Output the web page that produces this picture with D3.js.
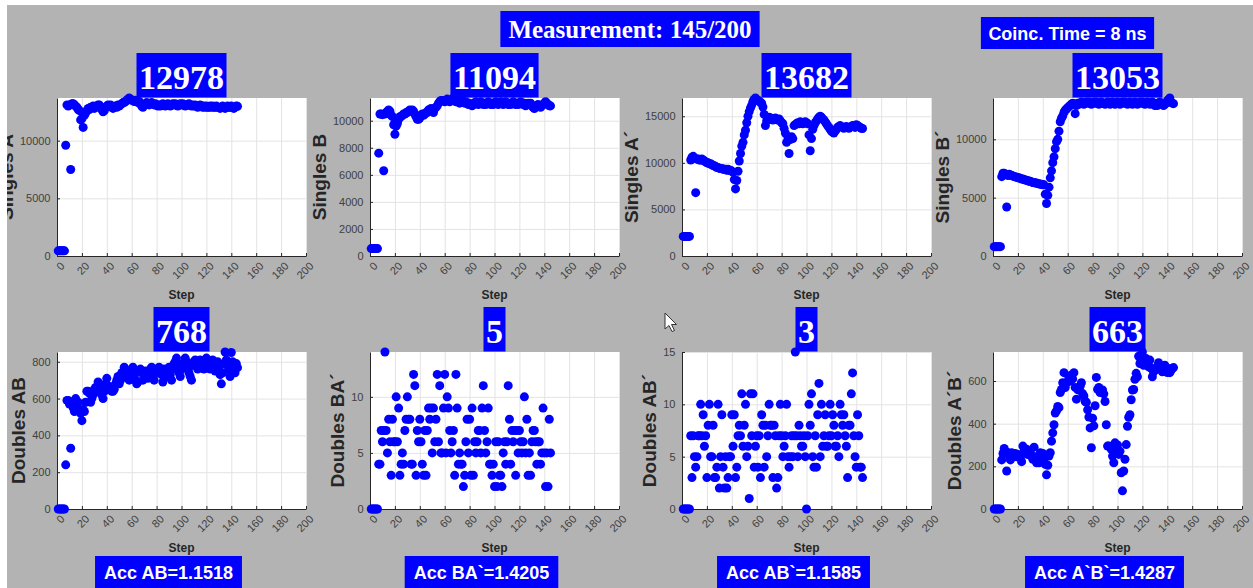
<!DOCTYPE html>
<html>
<head>
<meta charset="utf-8">
<script src="https://cdn.jsdelivr.net/npm/d3@7"></script>
<style>
  html, body { margin: 0; padding: 0; background: #fff; }
  svg { display: block; }
</style>
</head>
<body>
<div id="chart"></div>
<script>
// counts per step, steps 1..145
const singlesA = [
  450, 450, 450, 450, 450, 450, 9600, 13100, 13000, 13100,
  7500, 13200, 13200, 13100, 13000, 12900, 12700, 12600, 11800, 11900,
  11150, 12200, 12400, 12600, 12800, 12700, 12900, 12900, 13000, 12800,
  12900, 13000, 13100, 13100, 12900, 12700, 12500, 12600, 12900, 13000,
  13100, 13000, 13100, 12900, 12800, 12900, 13000, 12900, 13100, 13000,
  13100, 13200, 13300, 13300, 13400, 13500, 13600, 13700, 13600, 13500,
  13500, 13400, 13500, 13400, 13300, 13400, 13200, 13000, 12900, 13100,
  13200, 13300, 13200, 13100, 13200, 13300, 13200, 13100, 13200, 13100,
  13000, 13100, 13000, 13100, 13200, 13100, 13000, 13100, 13200, 13100,
  13000, 13100, 13200, 13100, 13200, 13100, 13000, 13100, 13200, 13100,
  13200, 13100, 13000, 13100, 13100, 13200, 13100, 13000, 13100, 13000,
  13100, 13000, 12900, 13000, 13100, 13000, 12900, 13000, 12900, 13000,
  12900, 12900, 13000, 12900, 13000, 12900, 12900, 13000, 12900, 12900,
  12800, 12900, 13000, 12900, 12800, 12900, 13000, 12900, 12900, 13000,
  12900, 12800, 12900, 13000, 12978
];
const singlesB = [
  550, 550, 550, 550, 550, 550, 7600, 10500, 10500, 10450,
  6300, 10500, 10600, 10700, 10800, 10700, 10400, 10300, 9700, 9000,
  9600, 9800, 10100, 10300, 10300, 10400, 10500, 10500, 10600, 10600,
  10700, 10800, 10700, 10800, 10700, 10500, 10300, 10100, 10100, 10200,
  10400, 10500, 10400, 10500, 10600, 10600, 10800, 10800, 10900, 10800,
  10600, 10900, 11000, 11100, 11300, 11400, 11500, 11500, 11500, 11400,
  11500, 11600, 11500, 11400, 11500, 11600, 11680, 11500, 11400, 11500,
  11400, 11300, 11400, 11500, 11400, 11300, 11400, 11300, 11200, 11300,
  11200, 11100, 11200, 11300, 11400, 11300, 11200, 11300, 11400, 11300,
  11200, 11300, 11200, 11300, 11400, 11300, 11200, 11300, 11200, 11300,
  11400, 11300, 11200, 11300, 11400, 11300, 11200, 11300, 11400, 11300,
  11200, 11300, 11200, 11300, 11400, 11300, 11200, 11300, 11200, 11300,
  11400, 11300, 11200, 11300, 11100, 11200, 11300, 11200, 11300, 11100,
  11000, 10900, 11000, 11100, 11200, 11100, 11000, 11100, 11200, 11300,
  11400, 11300, 11200, 11100, 11094
];
const singlesAp = [
  2100, 2100, 2100, 2100, 2100, 2100, 10300, 10600, 10700, 10500,
  6800, 10400, 10400, 10300, 10300, 10400, 10300, 10200, 10100, 10000,
  10000, 9900, 9900, 9800, 9700, 9700, 9600, 9500, 9500, 9400,
  9400, 9400, 9300, 9300, 9300, 9200, 9300, 9200, 9200, 9100,
  9000, 8200, 7200, 8100, 9100, 10200, 11000, 11800, 12200, 13000,
  13500, 14300, 15000, 15500, 15900, 16200, 16600, 16800, 16960, 16800,
  16700, 16600, 16500, 16400, 16000, 15200, 14000, 14500, 14700, 14900,
  14800, 14700, 14600, 14700, 14800, 14700, 14600, 14700, 14500, 14300,
  14200, 13700, 13200, 12200, 12800, 11000, 12500, 12800, 12600, 14000,
  14100, 14200, 14300, 14200, 14400, 14300, 14200, 14300, 14400, 14300,
  14200, 13000, 11300, 12600, 13600, 14000, 14300, 14500, 14700, 14900,
  15000, 14900, 14700, 14600, 14400, 14200, 14000, 13800, 13600, 13400,
  13300, 13200, 13400, 13600, 13800, 13900, 14000, 13900, 13800, 13700,
  13800, 13900, 13800, 13700, 13800, 13900, 14000, 13900, 13800, 14100,
  14000, 13900, 13800, 13700, 13682
];
const singlesBp = [
  800, 800, 800, 800, 800, 800, 6800, 7100, 7100, 7000,
  4200, 6900, 7000, 6950, 6900, 6850, 6800, 6800, 6750, 6700,
  6700, 6650, 6600, 6600, 6550, 6500, 6500, 6450, 6400, 6400,
  6350, 6300, 6300, 6250, 6250, 6200, 6200, 6150, 6150, 6100,
  6100, 5300, 4500, 5200, 5900, 6700, 7300, 8000, 8500, 9200,
  9800, 10000, 10700, 11500, 11800, 12000, 12300, 12500, 12600, 12700,
  12800, 12900, 13000, 13100, 13000, 12200, 12900, 13100, 13000, 13100,
  13200, 13100, 13000, 13100, 13200, 13100, 13200, 13100, 13000, 13100,
  13200, 13100, 13200, 13100, 13000, 13100, 13200, 13100, 13100, 13000,
  13100, 13200, 13100, 13000, 13100, 13200, 13100, 13000, 13100, 13200,
  13100, 13000, 13100, 13200, 13100, 13200, 13100, 13000, 13100, 13200,
  13100, 13000, 13100, 13200, 13100, 13000, 13100, 13200, 13100, 13200,
  13100, 13000, 13100, 13200, 13100, 13000, 13100, 13200, 13100, 12900,
  13000, 12900, 13100, 13200, 13100, 13000, 12900, 13000, 13100, 13300,
  13400, 13540, 13200, 13100, 13053
];
const doublesAB = [
  0, 0, 0, 0, 0, 0, 240, 590, 590, 570,
  330, 580, 550, 530, 600, 560, 580, 530, 520, 480,
  540, 530, 580, 640, 640, 630, 580, 600, 620, 650,
  660, 640, 690, 680, 670, 620, 600, 640, 680, 710,
  670, 650, 660, 640, 640, 650, 680, 700, 720, 680,
  700, 740, 720, 770, 750, 730, 710, 700, 740, 760,
  770, 720, 700, 680, 690, 750, 760, 740, 700, 720,
  750, 730, 710, 740, 760, 770, 720, 700, 750, 760,
  740, 770, 750, 730, 690, 760, 740, 720, 750, 770,
  730, 700, 760, 790, 800, 820, 780, 740, 720, 760,
  790, 770, 820, 800, 760, 740, 720, 700, 780, 800,
  810, 790, 760, 780, 810, 800, 770, 760, 800, 820,
  800, 780, 760, 790, 810, 770, 750, 780, 800, 760,
  730, 680, 740, 790, 853, 810, 780, 760, 720, 850,
  800, 770, 740, 790, 768
];
const doublesBAp = [
  0, 0, 0, 0, 0, 0, 4, 4, 7, 6,
  7, 14, 7, 5, 8, 6, 3, 8, 6, 6,
  10, 6, 9, 3, 4, 5, 4, 7, 8, 10,
  8, 8, 4, 4, 12, 11, 3, 7, 6, 8,
  6, 4, 3, 7, 3, 7, 9, 8, 9, 5,
  9, 6, 8, 12, 6, 11, 5, 5, 9, 12,
  5, 10, 9, 7, 5, 6, 7, 3, 12, 9,
  4, 5, 4, 4, 2, 3, 6, 8, 5, 8,
  3, 9, 3, 6, 5, 6, 7, 7, 5, 9,
  11, 7, 5, 6, 9, 4, 4, 3, 4, 2,
  6, 2, 6, 3, 3, 2, 5, 6, 4, 6,
  11, 8, 4, 7, 6, 7, 3, 7, 5, 7,
  6, 5, 6, 10, 5, 8, 3, 5, 3, 6,
  7, 7, 6, 4, 6, 6, 4, 5, 9, 5,
  2, 5, 2, 8, 5
];
const doublesABp = [
  0, 0, 0, 0, 0, 0, 7, 3, 7, 5,
  4, 5, 7, 7, 10, 7, 9, 6, 7, 3,
  8, 10, 5, 5, 8, 3, 3, 4, 10, 2,
  5, 9, 4, 2, 5, 2, 3, 5, 5, 9,
  6, 9, 3, 4, 7, 8, 7, 11, 6, 8,
  10, 5, 6, 1, 11, 7, 11, 4, 6, 7,
  4, 7, 3, 9, 8, 4, 8, 5, 7, 10,
  8, 8, 3, 8, 7, 2, 3, 7, 10, 7,
  5, 6, 7, 10, 5, 4, 5, 7, 5, 7,
  15, 7, 5, 8, 7, 6, 6, 7, 5, 0,
  7, 10, 8, 11, 5, 4, 7, 4, 9, 12,
  5, 10, 6, 7, 9, 6, 6, 7, 10, 7,
  9, 8, 6, 6, 7, 5, 10, 9, 8, 9,
  7, 6, 3, 8, 8, 11, 13, 7, 5, 4,
  9, 7, 4, 4, 3
];
const doublesApBp = [
  0, 0, 0, 0, 0, 0, 230, 260, 284, 270,
  178, 264, 250, 230, 264, 256, 250, 260, 245, 256,
  250, 240, 222, 295, 270, 264, 280, 255, 270, 262,
  248, 233, 290, 245, 217, 230, 217, 264, 248, 260,
  233, 210, 160, 205, 248, 264, 318, 357, 395, 450,
  460, 481, 475, 546, 560, 592, 639, 569, 590, 597,
  617, 600, 628, 610, 639, 570, 515, 560, 558, 575,
  592, 541, 530, 504, 500, 465, 431, 380, 287, 426,
  390, 484, 617, 561, 570, 546, 555, 558, 540, 504,
  395, 295, 295, 290, 280, 248, 217, 310, 279, 300,
  256, 271, 170, 85, 178, 233, 302, 388, 430, 442,
  512, 558, 560, 608, 636, 620, 716, 682, 700, 736,
  674, 690, 705, 680, 667, 698, 660, 620, 643, 650,
  659, 670, 686, 665, 659, 643, 650, 674, 660, 640,
  659, 639, 650, 659, 663
];

const panelSeries = [singlesA, singlesB, singlesAp, singlesBp, doublesAB, doublesBAp, doublesABp, doublesApBp];
const yLabels = ["Singles A", "Singles B", "Singles A´", "Singles B´", "Doubles AB", "Doubles BA´", "Doubles AB´", "Doubles A´B´"];
const currentCounts = ["12978", "11094", "13682", "13053", "768", "5", "3", "663"];
const yTickValues = [
  [0, 5000, 10000], [0, 2000, 4000, 6000, 8000, 10000], [0, 5000, 10000, 15000], [0, 5000, 10000],
  [0, 200, 400, 600, 800], [0, 5, 10], [0, 5, 10, 15], [0, 200, 400, 600]
];
const xTickValues = [0, 20, 40, 60, 80, 100, 120, 140, 160, 180, 200];
const accLabels = ["Acc AB=1.1518", "Acc BA`=1.4205", "Acc AB`=1.1585", "Acc A`B`=1.4287"];
const headerText = "Measurement: 145/200";
const coincText = "Coinc. Time = 8 ns";

const width = 1253, height = 588;
const colLeft = [57, 370, 682, 993];
const rowTop = [98, 352];
const plotW = 249;
const plotH = [158, 157];
const blue = "#0000ff";
const axisColor = "#262626";
const serif = "'Liberation Serif', 'Times New Roman', serif";
const sans = "'Liberation Sans', Arial, sans-serif";

const svg = d3.select("#chart").append("svg")
  .attr("width", width)
  .attr("height", height);

svg.append("rect").attr("width", width).attr("height", height).attr("fill", "#b3b3b3");

// blue label box with white text, centred on cx, sitting between top and bottom
function labelBox(parent, cx, top, bottom, text, font, size, pad, baseOff) {
  const box = parent.append("g");
  const rect = box.append("rect").attr("fill", blue);
  const t = box.append("text")
    .attr("x", cx)
    .attr("y", bottom - baseOff)
    .attr("text-anchor", "middle")
    .attr("fill", "#fff")
    .style("font-family", font)
    .style("font-size", size + "px")
    .style("font-weight", "bold")
    .text(text);
  const w = t.node().getComputedTextLength() + 2 * pad;
  rect.attr("x", cx - w / 2).attr("y", top).attr("width", w).attr("height", bottom - top);
  return box;
}

const x = d3.scaleLinear().domain([0, 200]).range([0, plotW]);

panelSeries.forEach((values, i) => {
  const row = Math.floor(i / 4), col = i % 4;
  const h = plotH[row];
  const y = d3.scaleLinear().domain([0, d3.max(values)]).range([h, 0]);
  const g = svg.append("g").attr("transform", `translate(${colLeft[col]},${rowTop[row]})`);

  g.append("rect").attr("width", plotW).attr("height", h).attr("fill", "#fff");

  // grid
  g.append("g")
    .attr("transform", `translate(0,${h})`)
    .call(d3.axisBottom(x).tickValues(xTickValues).tickSize(-h).tickFormat(""))
    .call(s => s.select(".domain").remove())
    .call(s => s.selectAll("line").attr("stroke", "#e3e3e3"));
  g.append("g")
    .call(d3.axisLeft(y).tickValues(yTickValues[i]).tickSize(-plotW).tickFormat(""))
    .call(s => s.select(".domain").remove())
    .call(s => s.selectAll("line").attr("stroke", "#e3e3e3"));

  // axes
  const xAxis = g.append("g")
    .attr("transform", `translate(0,${h})`)
    .call(d3.axisBottom(x).tickValues(xTickValues).tickSizeInner(-3).tickSizeOuter(0));
  xAxis.selectAll("text")
    .attr("x", 0).attr("y", 0).attr("dy", "0.35em")
    .attr("text-anchor", "end")
    .attr("transform", "translate(5,8) rotate(-45)");

  const yAxis = g.append("g")
    .call(d3.axisLeft(y).tickValues(yTickValues[i]).tickFormat(d3.format("d"))
      .tickSizeInner(-3).tickSizeOuter(0).tickPadding(6.5));

  [xAxis, yAxis].forEach(a => {
    a.select(".domain").attr("stroke", axisColor);
    a.selectAll(".tick line").attr("stroke", axisColor);
    a.selectAll("text")
      .attr("fill", "#404040")
      .style("font-family", sans)
      .style("font-size", "11px");
  });

  let maxTick = 0;
  yAxis.selectAll("text").each(function () {
    maxTick = Math.max(maxTick, this.getComputedTextLength());
  });

  // points
  g.append("g").selectAll("circle")
    .data(values)
    .join("circle")
    .attr("cx", (d, k) => x(k + 1))
    .attr("cy", d => y(d))
    .attr("r", 4.5)
    .attr("fill", blue);

  // labels
  g.append("text")
    .attr("transform", `translate(${-(6.5 + maxTick + 7)},${h / 2}) rotate(-90)`)
    .attr("text-anchor", "middle")
    .attr("fill", axisColor)
    .style("font-family", sans)
    .style("font-size", "19px")
    .style("font-weight", "bold")
    .text(yLabels[i]);

  g.append("text")
    .attr("x", plotW / 2)
    .attr("y", h + 43)
    .attr("text-anchor", "middle")
    .attr("fill", axisColor)
    .style("font-family", sans)
    .style("font-size", "12px")
    .style("font-weight", "bold")
    .text("Step");

  labelBox(g, plotW / 2, -45, -0.5, currentCounts[i], serif, 34, 2.5, 9);

  if (row === 1) {
    labelBox(g, plotW / 2 - 13, 204, 236, accLabels[col], sans, 18, 9, 9);
  }
});

labelBox(svg, 630, 11, 47, headerText, serif, 25, 8, 9);
labelBox(svg, 1067.5, 17, 49, coincText, sans, 18, 7.5, 9);

// mouse pointer left on the figure
svg.append("path")
  .attr("transform", "translate(665,313)")
  .attr("d", "M0,0 L0,16 L4,12.5 L7,18.5 L9.5,17.5 L6.5,11.5 L11.5,11.5 Z")
  .attr("fill", "#fff")
  .attr("stroke", "#333")
  .attr("stroke-width", 1);

// white margin of the capture
svg.append("rect").attr("width", width).attr("height", 5).attr("fill", "#fff");
svg.append("rect").attr("width", 7).attr("height", height).attr("fill", "#fff");
</script>
</body>
</html>
